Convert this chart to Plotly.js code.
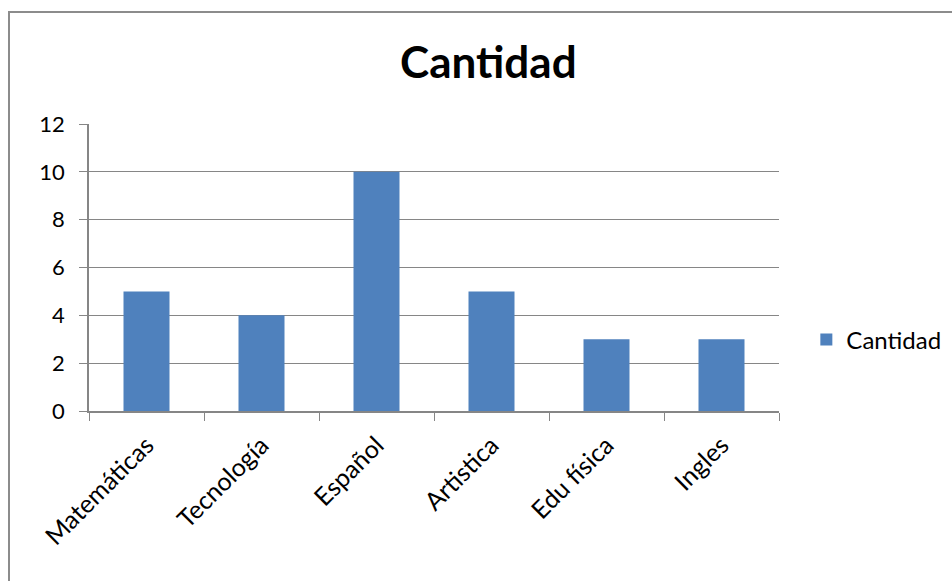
<!DOCTYPE html>
<html><head><meta charset="utf-8">
<script src="https://cdn.plot.ly/plotly-3.0.1.min.js"></script>
<style>
html,body{margin:0;padding:0;background:#fff;}
#wrap{position:relative;width:952px;height:581px;}
#chart{position:absolute;left:0;top:0;width:952px;height:581px;}
#frame{position:absolute;left:8px;top:11px;width:960px;height:600px;border-left:2px solid #8c8c8c;border-top:2px solid #8c8c8c;pointer-events:none;}
</style>
</head><body>
<div id="wrap"><div id="chart"></div><div id="frame"></div></div>
<script>
const categories = ["Matemáticas", "Tecnología", "Español", "Artistica", "Edu física", "Ingles"];
const cantidad = [5, 4, 10, 5, 3, 3];
const seriesName = "Cantidad";
const yTicks = [0, 2, 4, 6, 8, 10, 12];

const font = "Lato, Carlito, 'Open Sans', sans-serif";
const data = [{
  type: "bar",
  x: categories,
  y: cantidad,
  name: seriesName,
  marker: {color: "#4F81BD"},
  width: 0.4,
  showlegend: true
}];
const layout = {
  width: 952, height: 581,
  margin: {l: 89, r: 173, t: 124, b: 170},
  paper_bgcolor: "#fff", plot_bgcolor: "#fff",
  font: {family: font, color: "#000", size: 22},
  title: {text: "<b>Cantidad</b>", font: {family: font, size: 44, color: "#000"},
          x: 0.513, xref: "container", xanchor: "center", y: 0.892, yref: "container", yanchor: "middle"},
  xaxis: {
    type: "category", tickangle: -45, ticks: "outside", tickson: "boundaries",
    ticklen: 8, tickcolor: "#868686", showline: true, linecolor: "#868686", linewidth: 1.5,
    showgrid: false, tickfont: {size: 25, family: font}, automargin: false, ticklabelstandoff: 8
  },
  yaxis: {
    range: [0, 12], tickvals: yTicks, ticks: "outside", ticklen: 8, tickcolor: "#868686",
    showline: true, linecolor: "#868686", linewidth: 1.5, showgrid: true, gridcolor: "#868686",
    gridwidth: 1.3, zeroline: false, tickfont: {size: 22, family: font}, automargin: false,
    ticklabelstandoff: 10
  },
  legend: {xref: "container", yref: "container", x: 0.847, xanchor: "left", y: 0.415, yanchor: "middle",
           font: {size: 24, family: font}, itemwidth: 30, bgcolor: "rgba(0,0,0,0)"},
  bargap: 0.6
};
Plotly.newPlot("chart", data, layout, {displayModeBar: false});
</script>
</body></html>
